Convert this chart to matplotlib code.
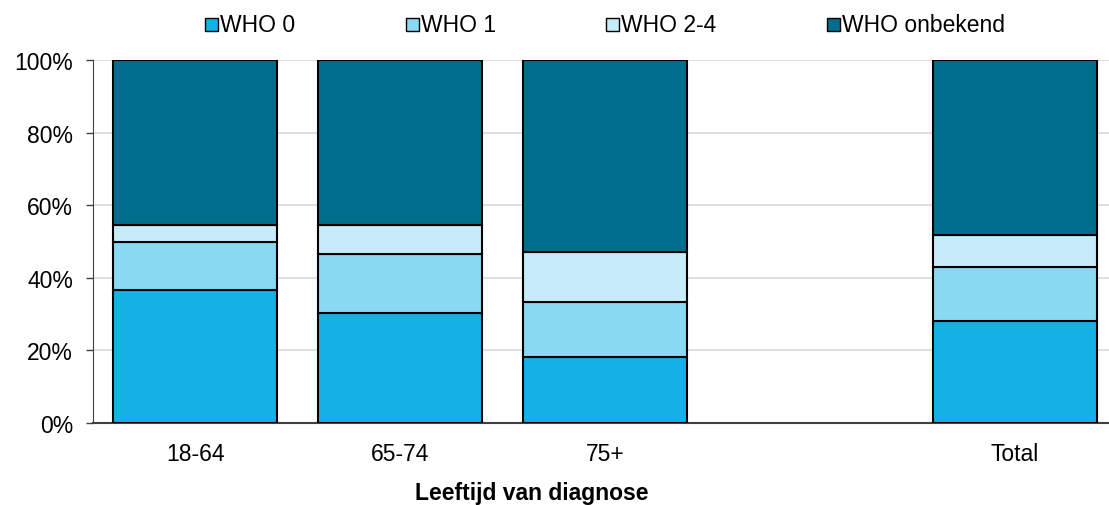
import matplotlib
matplotlib.use("Agg")
import matplotlib.pyplot as plt
from matplotlib.patches import Rectangle
import numpy as np

plt.rcParams['font.family'] = ['Liberation Sans', 'DejaVu Sans']

categories = ["18-64", "65-74", "75+", "", "Total"]
series_names = ["WHO 0", "WHO 1", "WHO 2-4", "WHO onbekend"]
who0 = [36.6, 30.2, 18.1, 0, 28.2]
who1 = [13.3, 16.4, 15.3, 0, 14.9]
who24 = [4.7, 8.0, 13.6, 0, 8.8]
onbekend = [45.4, 45.4, 53.0, 0, 48.1]
colors = ["#14B1E7", "#89D9F3", "#C5ECF8", "#006E8C"]

FS = 16.5
W, H = 1109, 506
fig = plt.figure(figsize=(W / 100, H / 100), dpi=100)
ax = fig.add_axes([92.5 / W, (H - 424) / H, 1025 / W, 363 / H])

x = np.arange(len(categories))
bottom = np.zeros(len(categories))
for vals, col in zip([who0, who1, who24, onbekend], colors):
    v = np.array(vals, dtype=float)
    mask = v > 0
    ax.bar(x[mask], v[mask], bottom=bottom[mask], width=0.8, color=col,
           edgecolor="black", linewidth=1.5, zorder=3)
    bottom += v

ax.set_xlim(-0.5, 4.5)
ax.set_ylim(0, 100)
ax.set_yticks(np.arange(0, 101, 20))
ax.set_yticklabels([f"{v}%" for v in range(0, 101, 20)], fontsize=FS)
ax.yaxis.grid(True, color="#D9D9D9", linewidth=1.2, zorder=0)
ax.set_xticks(x)
ax.set_xticklabels(categories, fontsize=FS)
ax.tick_params(axis="x", length=0, pad=14)
ax.tick_params(axis="y", length=5, width=1, color="#404040", pad=9)
for s in ["top", "right"]:
    ax.spines[s].set_visible(False)
ax.spines["left"].set_color("#404040")
ax.spines["bottom"].set_color("#404040")
ax.spines["bottom"].set_linewidth(1.5)

fig.text(532 / W, 1 - 494 / H, "Leeftijd van diagnose", ha="center", va="center",
         fontsize=FS, fontweight="bold")

# legend drawn manually
legend_x = [205, 406, 606, 827]
for lx, name, col in zip(legend_x, series_names, colors):
    fig.patches.append(Rectangle((lx / W, 1 - 32 / H), 13 / W, 13 / H,
                                 transform=fig.transFigure, facecolor=col,
                                 edgecolor="black", linewidth=1))
    fig.text((lx + 15) / W, 1 - 25.5 / H, name, ha="left", va="center", fontsize=FS)

fig.savefig("out.png", dpi=100)
